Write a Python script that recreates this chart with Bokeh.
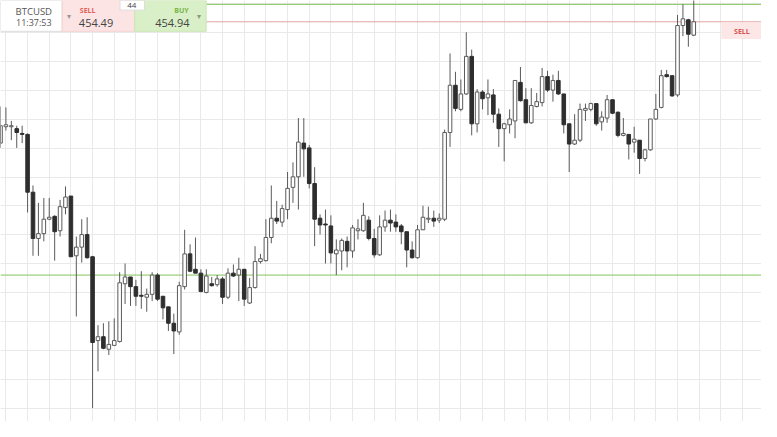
import numpy as np
from bokeh.plotting import figure
from bokeh.models import Range1d, FixedTicker, Span, Label, ColumnDataSource
from bokeh.embed import file_html
from bokeh.resources import INLINE

# ---------------- data (BTCUSD candles) ----------------
opens = [441.9, 443.6, 443.6, 443.4, 442.9, 442.8, 436.8, 432.0, 432.5, 434.0,
         434.3, 432.8, 435.2, 436.4, 430.2, 431.1, 432.4, 430.1, 421.4, 421.8,
         420.5, 420.9, 421.3, 427.3, 428.0, 427.0, 426.1, 425.9, 426.2, 428.2,
         426.0, 424.9, 423.2, 422.3, 427.0, 430.4, 428.8, 428.4, 426.4, 427.3,
         427.2, 427.8, 425.9, 428.4, 428.2, 428.8, 425.3, 426.9, 429.6, 429.7,
         432.1, 434.1, 433.7, 435.0, 437.3, 438.4, 441.9, 441.4, 437.7, 434.1,
         433.5, 433.3, 430.4, 430.7, 431.7, 430.7, 432.8, 432.8, 433.9, 432.0,
         430.3, 433.2, 433.9, 433.7, 433.3, 432.7, 430.8, 430.0, 432.9, 434.0,
         434.1, 433.9, 434.0, 443.0, 447.9, 445.4, 447.0, 450.9, 443.9, 447.2,
         446.6, 446.9, 444.9, 443.4, 443.8, 444.2, 448.2, 446.4, 444.0, 445.7,
         446.1, 448.8, 447.4, 448.4, 447.0, 443.9, 441.8, 442.2, 445.3, 445.4,
         446.0, 444.1, 444.5, 446.4, 445.1, 442.7, 442.8, 442.0, 442.2, 440.3,
         441.2, 444.4, 445.6, 449.0, 448.9, 446.9, 454.1, 454.7, 453.1]
highs = [445.7, 445.6, 444.2, 443.7, 443.7, 442.9, 437.5, 435.7, 436.2, 436.2,
         434.4, 436.0, 437.4, 436.4, 432.2, 434.0, 434.2, 430.2, 423.0, 423.2,
         423.4, 423.7, 428.5, 429.4, 428.0, 427.7, 428.6, 426.8, 428.5, 428.4,
         426.0, 424.9, 424.2, 427.5, 432.9, 431.4, 432.1, 428.8, 428.8, 428.0,
         428.2, 428.0, 428.9, 429.3, 430.0, 428.8, 427.9, 431.2, 430.4, 434.0,
         437.5, 435.9, 435.5, 438.9, 439.9, 444.5, 444.5, 441.7, 439.4, 434.5,
         435.0, 434.4, 431.9, 432.0, 432.2, 433.4, 434.0, 435.7, 434.3, 433.0,
         434.4, 434.9, 435.0, 434.5, 433.5, 432.7, 431.7, 433.4, 435.4, 435.3,
         434.9, 434.6, 443.3, 451.2, 449.3, 448.5, 453.4, 451.6, 447.5, 447.4,
         448.5, 447.5, 445.5, 444.0, 445.4, 448.4, 449.8, 447.6, 447.6, 447.1,
         449.7, 449.4, 449.0, 449.4, 447.0, 443.9, 444.9, 446.0, 446.0, 446.1,
         446.0, 445.2, 446.9, 446.4, 445.2, 444.5, 442.8, 443.6, 442.2, 441.3,
         444.4, 447.0, 449.5, 449.5, 448.9, 455.2, 456.3, 454.8, 457.0]
lows = [441.4, 443.2, 442.2, 441.4, 441.9, 434.7, 430.2, 430.2, 431.7, 433.9,
        429.7, 432.2, 434.5, 430.1, 423.9, 429.5, 429.9, 414.4, 418.2, 420.5,
        419.9, 420.9, 421.2, 425.2, 425.0, 425.0, 424.7, 424.4, 425.5, 425.5,
        423.6, 422.4, 420.0, 422.0, 426.7, 428.5, 428.4, 426.4, 426.3, 427.0,
        427.0, 425.2, 425.7, 428.0, 425.5, 425.0, 425.2, 426.8, 429.4, 429.6,
        431.5, 433.5, 433.2, 434.0, 435.7, 435.0, 438.4, 437.2, 431.2, 432.4,
        429.4, 429.4, 428.2, 428.7, 429.0, 430.0, 431.9, 432.7, 431.8, 430.0,
        430.2, 432.7, 432.7, 432.7, 431.4, 429.0, 429.9, 429.9, 432.9, 433.6,
        433.2, 433.6, 433.8, 441.5, 445.2, 445.2, 446.9, 442.7, 443.0, 445.4,
        444.8, 444.0, 441.5, 440.0, 442.9, 442.4, 446.2, 444.0, 443.9, 445.6,
        445.7, 447.2, 446.2, 446.9, 442.9, 438.9, 441.7, 442.0, 444.2, 445.2,
        443.7, 443.2, 444.0, 444.9, 442.5, 442.6, 440.2, 440.9, 438.7, 440.0,
        441.1, 444.3, 445.5, 448.7, 446.7, 446.7, 453.0, 451.9, 453.0]
closes = [443.7, 443.8, 443.7, 443.0, 442.8, 436.8, 432.0, 432.5, 434.0, 434.2,
          432.7, 435.3, 436.3, 430.1, 431.1, 432.4, 430.0, 421.2, 421.8, 420.6,
          421.0, 421.4, 427.4, 428.0, 427.0, 426.0, 426.0, 426.2, 428.2, 425.7,
          424.8, 423.2, 422.4, 427.1, 430.4, 428.6, 428.4, 426.5, 428.1, 427.1,
          427.8, 425.9, 428.4, 428.1, 428.8, 425.7, 426.9, 429.6, 429.9, 432.1,
          434.1, 433.8, 435.1, 437.2, 438.4, 442.0, 441.3, 437.7, 434.0, 433.4,
          433.4, 430.5, 430.8, 431.8, 430.7, 433.1, 433.0, 434.4, 432.0, 430.3,
          433.2, 433.9, 433.6, 433.2, 432.7, 430.8, 430.0, 432.9, 434.2, 434.1,
          433.8, 434.1, 443.0, 447.9, 445.5, 447.0, 450.9, 443.9, 447.2, 446.5,
          447.0, 444.9, 443.4, 443.9, 444.4, 448.4, 446.3, 444.0, 445.8, 446.2,
          448.8, 447.4, 448.4, 447.0, 443.8, 441.8, 442.2, 445.4, 445.5, 446.0,
          443.9, 444.6, 446.4, 445.0, 442.7, 442.9, 441.8, 442.3, 440.3, 441.2,
          444.4, 445.4, 448.9, 448.8, 446.8, 454.1, 454.8, 453.2, 454.49]

symbol = "BTCUSD"
clock = "11:37:53"
sell_price = 454.49
buy_price = 454.94
spread = "44"
support_level = 428.2
resistance_level = 456.3

# ---------------- helpers: reference pixel -> data coords (decoration only) ----
SX = 5.53      # reference px per candle
P0 = 456.7     # price at reference top edge
PY = 10.0      # reference px per 1 USD


def dx(px):
    return px / SX


def dy(py):
    return P0 - py / PY


W, H = 761, 421
p = figure(width=W, height=H, output_backend="svg", toolbar_location=None,
           x_range=Range1d(dx(0), dx(777)), y_range=Range1d(dy(437), dy(0)),
           x_axis_location=None, y_axis_location=None, min_border=0,
           background_fill_color="white", border_fill_color="white")
p.outline_line_color = None

# grid
p.xgrid.ticker = FixedTicker(ticks=list(range(1, 141, 4)))
p.ygrid.ticker = FixedTicker(ticks=[round(456.37 - 3 * k, 2) for k in range(16)])
p.grid.grid_line_color = "#e9e9e9"
p.grid.grid_line_width = 1

# horizontal level lines
for lvl, col in [(support_level, "#86c35a"), (resistance_level, "#86c35a"),
                 (sell_price, "#e3a3a3")]:
    p.add_layout(Span(location=lvl, dimension="width", line_color=col,
                      line_width=1, level="underlay"))

# candles
idx = np.arange(len(opens))
o = np.array(opens)
c = np.array(closes)
up = c >= o
src = ColumnDataSource(dict(
    x=idx, high=highs, low=lows,
    top=np.maximum(o, c), bottom=np.minimum(o, c),
    fill=np.where(up, "#ffffff", "#2e2e2e"),
    line=np.where(up, "#5a5a5a", "#2e2e2e"),
))
p.segment(x0="x", y0="high", x1="x", y1="low", source=src,
          line_color="#5a5a5a", line_width=1)
p.vbar(x="x", width=0.66, top="top", bottom="bottom", source=src,
       fill_color="fill", line_color="line", line_width=1)

# ---------------- header widgets ----------------
p.quad(left=dx(0), right=dx(63), top=dy(0), bottom=dy(32),
       fill_color="#ffffff", line_color="#dddddd", line_width=1)
p.quad(left=dx(63), right=dx(137), top=dy(0), bottom=dy(32),
       fill_color="#fbe4e3", line_color="#f3d2d0", line_width=1)
p.quad(left=dx(137), right=dx(210), top=dy(0), bottom=dy(32),
       fill_color="#d9efc7", line_color="#cbe6b4", line_width=1)
p.quad(left=dx(122), right=dx(147), top=dy(0), bottom=dy(10),
       fill_color="#ffffff", line_color="#dddddd", line_width=1)
p.quad(left=dx(736), right=dx(777), top=dy(23), bottom=dy(40),
       fill_color="#fde6e6", line_color=None)


def lab(px, py, txt, size, color, align="left", style="normal"):
    p.add_layout(Label(x=dx(px), y=dy(py), text=txt, text_font="Open Sans",
                       text_font_size=f"{size}px", text_color=color,
                       text_align=align, text_baseline="middle",
                       text_font_style=style))


lab(34, 11, symbol, 9.5, "#555555", "center")
lab(34, 23, clock, 9, "#555555", "center")
lab(70, 16, "\u25be", 8, "#999999", "center")
lab(81, 10, "SELL", 7, "#e0605a", "left", "bold")
lab(80, 23, f"{sell_price:.2f}", 11, "#444444", "left")
lab(134, 5, spread, 8, "#444444", "center")
lab(192, 10, "BUY", 7, "#7bb446", "right", "bold")
lab(193, 23, f"{buy_price:.2f}", 11, "#444444", "right")
lab(203, 16, "\u25be", 8, "#8a9a80", "center")
lab(757, 32, "SELL", 7, "#d9534f", "center", "bold")

open("out.html", "w").write(file_html(p, INLINE))
